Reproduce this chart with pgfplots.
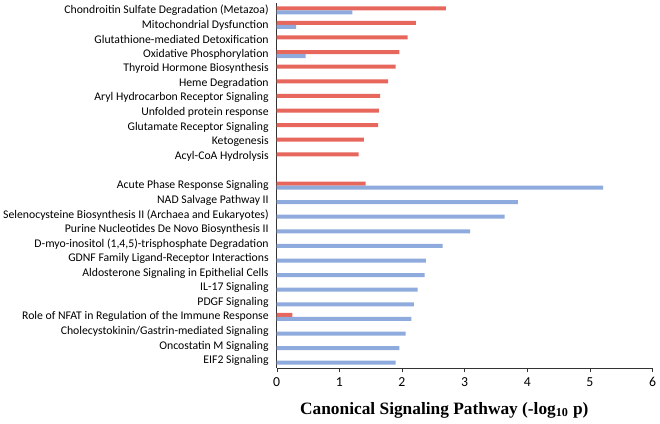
\documentclass[border=0pt]{standalone}
\usepackage{fontspec}
\setmainfont{Carlito}
\newfontfamily\titlefont{Liberation Serif}
\usepackage{pgfplots}
\pgfplotsset{compat=1.18}
\definecolor{redbar}{RGB}{232,103,93}
\definecolor{bluebar}{RGB}{143,170,220}
\begin{document}
\begin{tikzpicture}
\path[use as bounding box] (-207.5pt,-41.25pt) rectangle (287.45pt, 276pt);
\begin{axis}[at={(0,0)}, anchor=south west, scale only axis,
 width=281.85pt, height=273.75pt,
 xmin=0, xmax=6, ymin=-0.5, ymax=24.5,
 axis x line*=bottom, axis y line*=left,
 axis line style={black!80, line width=0.6pt},
 xbar, bar width=3pt,
 xtick={0,1,2,3,4,5,6},
 /pgf/number format/assume math mode=true,
 x tick label style={font=\fontsize{10.3}{12}\selectfont, yshift=-0.5pt},
 tick align=outside,
 major tick length=3pt,
 minor tick length=2.5pt,
 ytick={0,1,2,3,4,5,6,7,8,9,10,11,12,14,15,16,17,18,19,20,21,22,23,24},
 yticklabels={EIF2 Signaling, Oncostatin M Signaling, Cholecystokinin/Gastrin-mediated Signaling, Role of NFAT in Regulation of the Immune Response, PDGF Signaling, IL-17 Signaling, Aldosterone Signaling in Epithelial Cells, GDNF Family Ligand-Receptor Interactions, {D-myo-inositol (1,4,5)-trisphosphate Degradation}, Purine Nucleotides De Novo Biosynthesis II, Selenocysteine Biosynthesis II (Archaea and Eukaryotes), NAD Salvage Pathway II, Acute Phase Response Signaling, Acyl-CoA Hydrolysis, Ketogenesis, Glutamate Receptor Signaling, Unfolded protein response, Aryl Hydrocarbon Receptor Signaling, Heme Degradation, Thyroid Hormone Biosynthesis, Oxidative Phosphorylation, Glutathione-mediated Detoxification, Mitochondrial Dysfunction, Chondroitin Sulfate Degradation (Metazoa)},
 y tick label style={font=\fontsize{8.8}{10}\selectfont, xshift=0.5pt},
 ytick style={draw=none},
 minor ytick={-0.5,0.5,...,24.5},
 minor y tick style={black!80},
 x tick style={black!80},
 xlabel={\titlefont\bfseries Canonical Signaling Pathway (-log\textsubscript{10} p)},
 xlabel style={at={(rel axis cs:0.446,0)}, anchor=center, yshift=-31.5pt, font=\fontsize{13}{16}\selectfont},
 clip=false,
]
\addplot[fill=redbar, draw=none, bar shift=1.5pt] coordinates {
(0.25,3) (1.42,12) (1.31,14) (1.39,15) (1.62,16) (1.63,17) (1.65,18) (1.78,19) (1.90,20) (1.96,21) (2.09,22) (2.22,23) (2.70,24)};
\addplot[fill=bluebar, draw=none, bar shift=-1.5pt] coordinates {
(1.90,0) (1.96,1) (2.06,2) (2.15,3) (2.19,4) (2.25,5) (2.36,6) (2.38,7) (2.65,8) (3.09,9) (3.64,10) (3.85,11) (5.21,12) (0.46,21) (0.31,23) (1.21,24)};
\end{axis}
\end{tikzpicture}
\end{document}
